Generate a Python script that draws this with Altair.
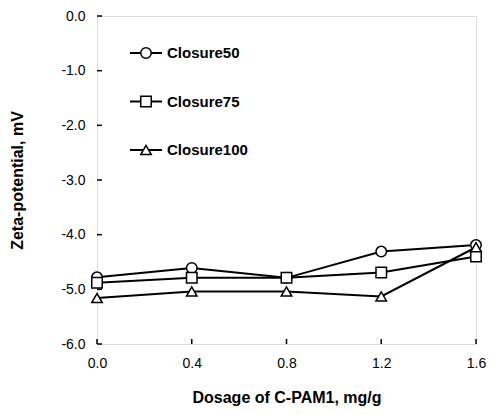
import altair as alt
import pandas as pd

doses = [0.0, 0.4, 0.8, 1.2, 1.6]
closure50 = [-4.78, -4.61, -4.79, -4.31, -4.19]
closure75 = [-4.88, -4.79, -4.79, -4.69, -4.40]
closure100 = [-5.16, -5.04, -5.04, -5.13, -4.23]
series_names = ["Closure50", "Closure75", "Closure100"]
shapes = ["circle", "square", "triangle-up"]
x_ticks = [0.0, 0.4, 0.8, 1.2, 1.6]
y_ticks = [0.0, -1.0, -2.0, -3.0, -4.0, -5.0, -6.0]

rows = []
for name, vals in zip(series_names, [closure50, closure75, closure100]):
    for d, v in zip(doses, vals):
        rows.append({"dose": d, "zeta": v, "series": name})
df = pd.DataFrame(rows)

W, H = 379, 328
FONT = "Liberation Sans"
LBL = "replace(format(datum.value, '.1f'), '\u2212', '-')"

xscale = alt.Scale(domain=[0, 1.6], nice=False, zero=False)
yscale = alt.Scale(domain=[-6, 0], nice=False, zero=False)
shape_scale = alt.Scale(domain=series_names, range=shapes)

xaxis = alt.Axis(values=x_ticks, labelExpr=LBL, title="Dosage of C-PAM1, mg/g",
                 ticks=False, domain=False, grid=False, labelPadding=12,
                 labelFlush=False, labelOverlap=False,
                 labelFontSize=14, labelFont=FONT, labelColor="black",
                 titleFont=FONT, titleFontSize=16, titleFontWeight="bold",
                 titleColor="black", titleY=58, titleBaseline="alphabetic")
yaxis = alt.Axis(values=y_ticks, labelExpr=LBL, title="Zeta-potential, mV",
                 ticks=False, domain=False, grid=False, labelPadding=12,
                 labelFlush=False, labelOverlap=False,
                 labelFontSize=14, labelFont=FONT, labelColor="black",
                 titleFont=FONT, titleFontSize=16, titleFontWeight="bold",
                 titleColor="black", titleAngle=270, titleX=-75, titleY=H / 2,
                 titleAlign="center", titleBaseline="alphabetic")

base = alt.Chart(df)
lines = base.mark_line(color="black", strokeWidth=2).encode(
    x=alt.X("dose:Q", scale=xscale, axis=xaxis),
    y=alt.Y("zeta:Q", scale=yscale, axis=yaxis),
    detail="series:N",
)
points = base.mark_point(filled=True, fill="white", stroke="black",
                         strokeWidth=1.5, size=110, opacity=1).encode(
    x=alt.X("dose:Q", scale=xscale),
    y=alt.Y("zeta:Q", scale=yscale),
    shape=alt.Shape("series:N", scale=shape_scale, legend=None),
)

ytick_df = pd.DataFrame({"v": y_ticks})
xtick_df = pd.DataFrame({"v": x_ticks})
yticks = alt.Chart(ytick_df).mark_rule(color="black", strokeWidth=1.5).encode(
    y=alt.Y("v:Q", scale=yscale), x=alt.value(0), x2=alt.value(5))
xticks = alt.Chart(xtick_df).mark_rule(color="black", strokeWidth=1.5).encode(
    x=alt.X("v:Q", scale=xscale), y=alt.value(H), y2=alt.value(H - 5))

legend_layers = []
for i, (name, shp) in enumerate(zip(series_names, shapes)):
    ly = 37 + 48.5 * i
    ldf = pd.DataFrame({"series": [name]})
    lc = alt.Chart(ldf)
    legend_layers.append(lc.mark_rule(color="black", strokeWidth=2).encode(
        x=alt.value(33), x2=alt.value(65), y=alt.value(ly)))
    legend_layers.append(lc.mark_point(shape=shp, filled=True, fill="white",
                                       stroke="black", strokeWidth=1.5,
                                       size=110, opacity=1).encode(
        x=alt.value(49), y=alt.value(ly)))
    legend_layers.append(lc.mark_text(align="left", baseline="middle",
                                      font=FONT, fontSize=15, fontWeight="bold",
                                      color="black").encode(
        x=alt.value(70), y=alt.value(ly), text="series:N"))

chart = alt.layer(lines, points, yticks, xticks, *legend_layers).properties(
    width=W, height=H,
    autosize=alt.AutoSizeParams(type="none"),
    padding={"left": 89, "top": 8, "right": 10, "bottom": 62},
).configure_view(stroke="black", strokeWidth=2).configure(background="white")

chart.save("out.html", embed_options={"renderer": "svg", "actions": False})
